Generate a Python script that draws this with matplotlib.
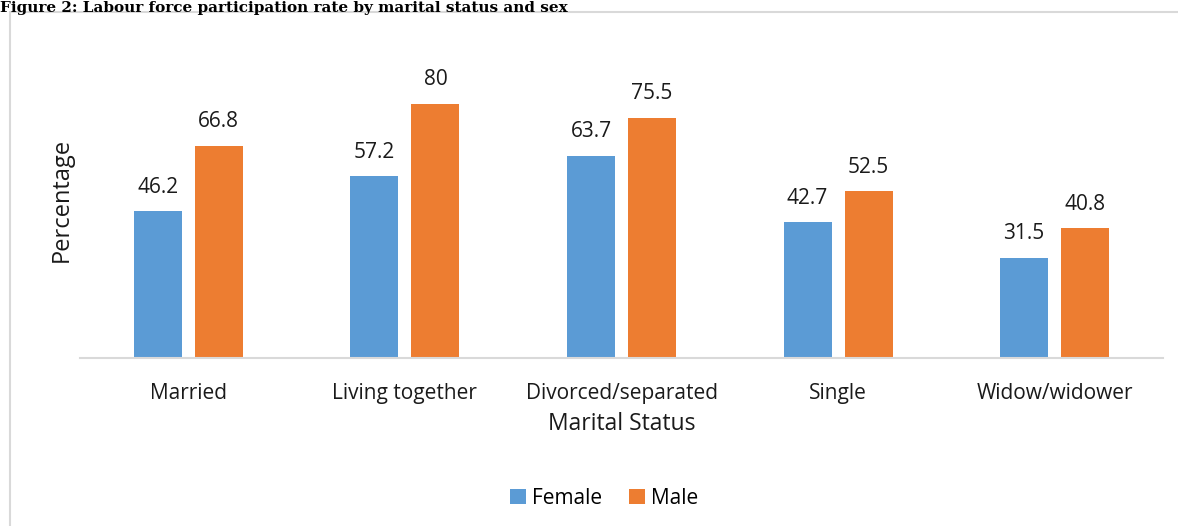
import numpy as np
import matplotlib
matplotlib.use("Agg")
from matplotlib import pyplot as plt
from matplotlib.patches import Rectangle

categorias = ["Married", "Living together", "Divorced/separated", "Single", "Widow/widower"]
mujeres = [46.2, 57.2, 63.7, 42.7, 31.5]
hombres = [66.8, 80, 75.5, 52.5, 40.8]

plt.rcParams['font.family'] = ['Open Sans', 'DejaVu Sans']

W, H = 1178, 526
fig = plt.figure(figsize=(W / 100, H / 100), dpi=100)

# marco gris del grafico (solo se ven lados izquierdo y superior)
fig.patches.append(Rectangle((10 / W, -0.1), 1.2, 1 - 12 / H + 0.1, transform=fig.transFigure,
                             fill=False, edgecolor="#d9d9d9", linewidth=1.5))

fig.text(0, 1 - 1 / H, "Figure 2: Labour force participation rate by marital status and sex",
         family=['DejaVu Serif'], fontweight='bold', fontsize=11, va='top', ha='left')

ax = fig.add_axes([80 / W, 1 - 358 / H, (1163 - 80) / W, (358 - 72) / H])
x = np.arange(len(categorias))
ancho = 0.222
desp = 0.141
b1 = ax.bar(x - desp, mujeres, ancho, color="#5B9BD5", label="Female")
b2 = ax.bar(x + desp, hombres, ancho, color="#ED7D31", label="Male")
for barras in (b1, b2):
    for b in barras:
        v = b.get_height()
        ax.text(b.get_x() + b.get_width() / 2, v + 4.3, f"{v:g}", ha='center', va='bottom',
                fontsize=15, color="#1a1a1a")

ax.set_xlim(-0.5, len(categorias) - 0.5)
ax.set_ylim(0, 90)
ax.set_yticks([])
ax.set_xticks(x)
ax.set_xticklabels(categorias, fontsize=15, color="#1a1a1a")
ax.tick_params(axis='x', length=0, pad=18)
for s in ("top", "right", "left"):
    ax.spines[s].set_visible(False)
ax.spines["bottom"].set_color("#d9d9d9")
ax.spines["bottom"].set_linewidth(1.5)
ax.set_xlabel("Marital Status", fontsize=16.5, color="#1a1a1a")
ax.xaxis.set_label_coords(0.5, -(424 - 358) / (358 - 72))
ax.xaxis.label.set_va('center')
ax.set_ylabel("Percentage", fontsize=17, color="#1a1a1a")
ax.yaxis.set_label_coords(-(80 - 62) / (1163 - 80), (358 - 200) / (358 - 72))
ax.yaxis.label.set_va('center')

fig.legend(handles=[b1, b2], labels=["Female", "Male"], loc='center', ncol=2,
           bbox_to_anchor=(604 / W, 1 - 498 / H), frameon=False, fontsize=15,
           handlelength=0.75, handleheight=0.75, handletextpad=0.3, columnspacing=1.3)

fig.savefig("out.png", dpi=100)
